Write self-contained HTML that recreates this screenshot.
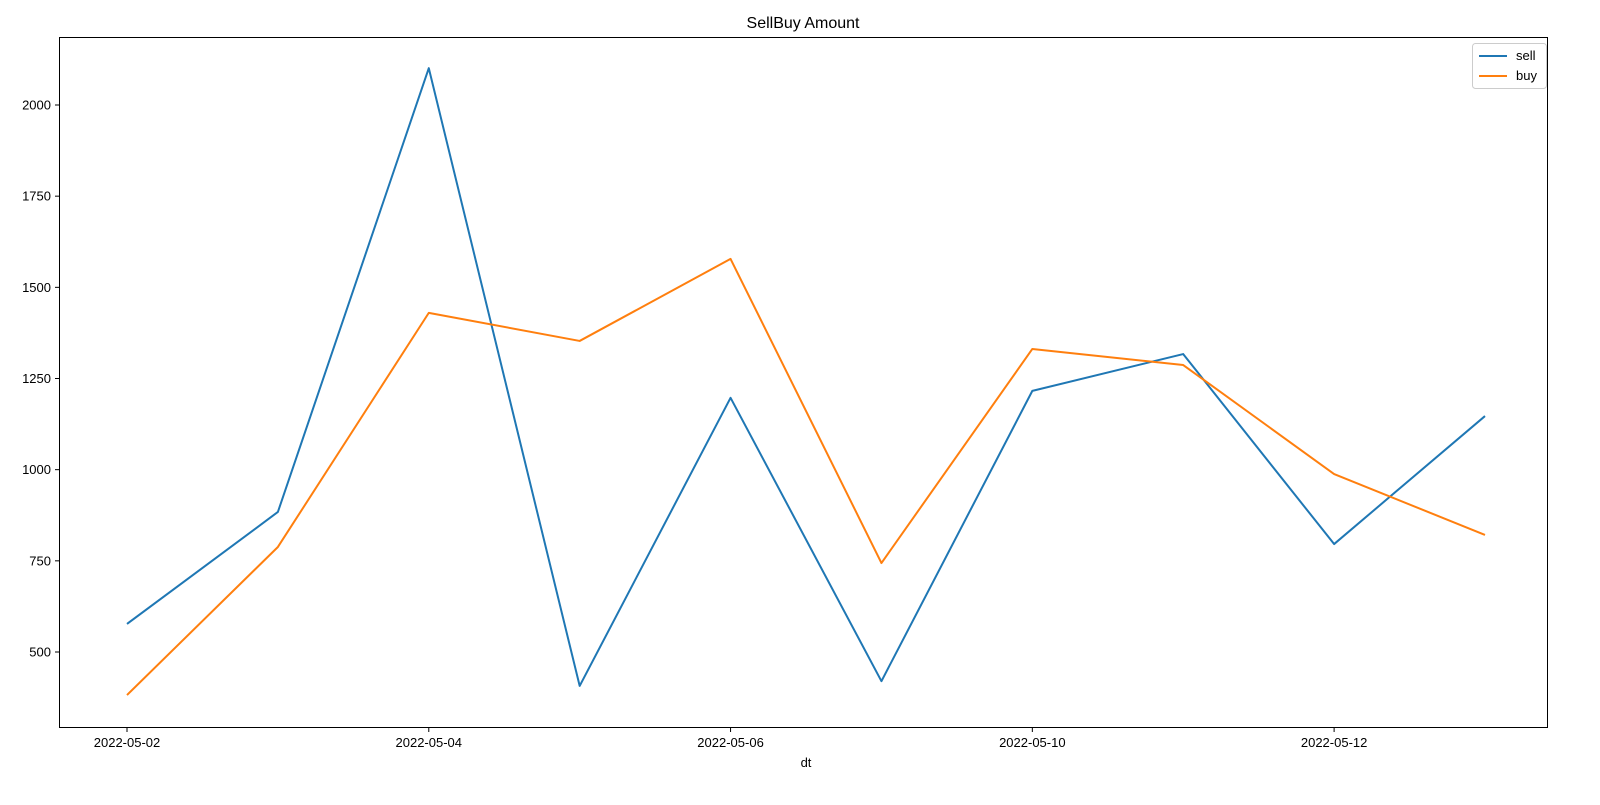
<!DOCTYPE html>
<html><head><meta charset="utf-8"><style>
body{margin:0;background:#fff;font-family:"Liberation Sans",sans-serif}
text{font-family:"Liberation Sans",sans-serif;fill:#000}
</style></head><body>
<svg id="chart" width="1600" height="800">
<rect width="1600" height="800" fill="#fff"/>
<text x="803" y="28" font-size="16" text-anchor="middle">SellBuy Amount</text>
<g id="plot"></g>
<rect x="59.5" y="37.5" width="1488" height="690" fill="none" stroke="#000" stroke-width="1"/>
<text x="806" y="767" font-size="13" text-anchor="middle">dt</text>
<g>
<rect x="1472.5" y="43.5" width="74" height="45" rx="3" fill="#fff" stroke="#ccc"/>
<line x1="1479" y1="56" x2="1507" y2="56" stroke="#1f77b4" stroke-width="2"/>
<text x="1516" y="60" font-size="13">sell</text>
<line x1="1479" y1="76" x2="1507" y2="76" stroke="#ff7f0e" stroke-width="2"/>
<text x="1516" y="80" font-size="13">buy</text>
</g>
</svg>
<script>
const categories=["2022-05-02","2022-05-03","2022-05-04","2022-05-05","2022-05-06","2022-05-09","2022-05-10","2022-05-11","2022-05-12","2022-05-13"];
const sellValues=[577,884,2101,407,1197,420,1216,1317,796,1147];
const buyValues=[382,788,1430,1353,1578,744,1331,1287,988,821];
const yTicks=[500,750,1000,1250,1500,1750,2000];
const xTickIdx=[0,2,4,6,8];
const NS="http://www.w3.org/2000/svg";
const g=document.getElementById("plot");
function xs(i){return 127+i*(1485-127)/(categories.length-1);}
function ys(v){return 652-(v-500)*(547/1500);}
function mk(t,a){const e=document.createElementNS(NS,t);for(const k in a)e.setAttribute(k,a[k]);g.appendChild(e);return e;}
yTicks.forEach(v=>{
 const y=ys(v);
 const l=mk("line",{x1:55,x2:59,y1:y,y2:y,stroke:"#000"});
 
 
 const t=mk("text",{x:51,y:y+4.5,"font-size":13,"text-anchor":"end"});t.textContent=v;
 
 
});
xTickIdx.forEach(i=>{
 const x=xs(i);
 const l=mk("line",{x1:x,x2:x,y1:728,y2:732,stroke:"#000"});
 
 
 const t=mk("text",{x:x,y:747,"font-size":13,"text-anchor":"middle"});t.textContent=categories[i];
 
 
});
function line(vals,color,name){
 const p=mk("polyline",{points:vals.map((v,i)=>xs(i)+","+ys(v)).join(" "),fill:"none",stroke:color,"stroke-width":2,"stroke-linejoin":"round"});
 
 
}
line(sellValues,"#1f77b4","sell-line");
line(buyValues,"#ff7f0e","buy-line");
</script>
</body></html>
